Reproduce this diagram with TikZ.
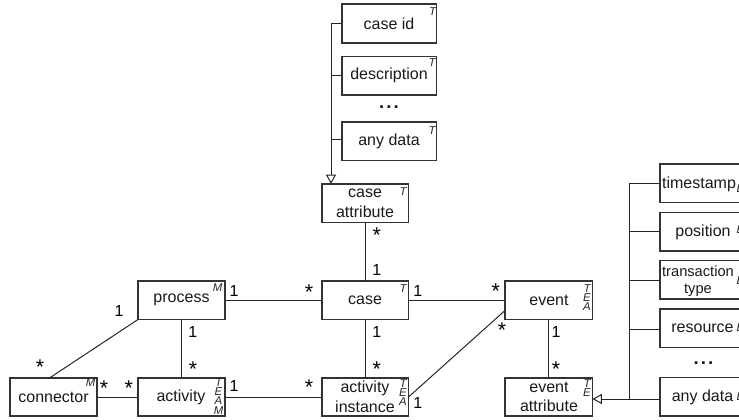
\documentclass[tikz,border=0pt]{standalone}
\usepackage{fontspec}
\setmainfont{Liberation Sans}
\usetikzlibrary{arrows.meta}
\tikzset{
  x=0.75pt,y=-0.75pt,
  box/.style={draw=black!80,line width=0.8pt,rectangle},
  lbl/.style={font=\fontsize{12}{14.8}\selectfont,align=center,inner sep=0pt,text=black!90},
  tight/.style={font=\fontsize{11}{12.6}\selectfont},
  dotsrow/.style={font=\fontsize{14}{14}\bfseries\selectfont,inner sep=0pt,text=black!90},
  tag/.style={font=\fontsize{8.5}{7.1}\selectfont\itshape,align=center,inner sep=0pt,anchor=north,text=black!85},
  mult/.style={font=\fontsize{12}{12}\selectfont,inner sep=0pt,text=black},
  star/.style={font=\fontsize{16}{16}\selectfont,inner sep=0pt,text=black},
  conn/.style={draw=black!85,line width=0.75pt},
  gen/.style={conn,-{Triangle[open,length=7pt,width=7.5pt,fill=white]}},
}
\newcommand{\bx}[5]{% name x1 y1 x2 y2
  \path[box] (#2,#3) rectangle (#4,#5);
  \coordinate (#1-w) at (#2,{(#3+#5)/2});
  \coordinate (#1-e) at (#4,{(#3+#5)/2});
  \coordinate (#1-n) at ({(#2+#4)/2},#3);
  \coordinate (#1-s) at ({(#2+#4)/2},#5);
}
\newcommand{\spdots}{.\kern1.6pt.\kern1.6pt.}
\begin{document}
\begin{tikzpicture}
\useasboundingbox (0,0) rectangle (739,420);
\clip (0,0) rectangle (739,420);
% boxes
\bx{cid}{342}{4}{436.5}{43}
\bx{desc}{342}{56.5}{436.5}{95}
\bx{anyT}{342}{122}{436.5}{160.5}
\bx{catt}{322}{184}{408.5}{222.5}
\bx{case}{322}{281}{408.5}{319.5}
\bx{ainst}{322}{378}{408.5}{416}
\bx{event}{505}{281}{592.5}{319.5}
\bx{eatt}{505}{378}{592.5}{416}
\bx{proc}{138}{281}{225}{319.5}
\bx{act}{138}{378}{225}{416}
\bx{conn}{10}{378}{97}{416}
\bx{ts}{660}{164}{760}{202.5}
\bx{pos}{660}{212.5}{760}{251}
\bx{trans}{660}{260.5}{760}{299}
\bx{res}{660}{309}{760}{347.5}
\bx{anyE}{660}{377.5}{760}{416}
% labels
\node[lbl] (tcid) at (389,23.5) {case id};
\node[lbl] (tdesc) at (389,75.5) {description};
\node[lbl] (tanyT) at (389,141) {any data};
\node[dotsrow] (tdots1) at (389,107.5) {\spdots};
\node[lbl] (tcatt) at (365,203) {case\\attribute};
\node[lbl] (tcase) at (365,300) {case};
\node[lbl] (tainst) at (365,397) {activity\\instance};
\node[lbl] (tevent) at (549,300) {event};
\node[lbl] (teatt) at (549,397) {event\\attribute};
\node[lbl] (tproc) at (181.5,300) {process};
\node[lbl] (tact) at (181,397) {activity};
\node[lbl] (tconn) at (53.5,397) {connector};
\node[lbl] (tts) at (699,184) {timestamp};
\node[lbl] (tpos) at (703,232) {position};
\node[lbl,tight] (ttr) at (698,281) {transaction\\type};
\node[lbl] (tres) at (702.5,328.5) {resource};
\node[dotsrow] (tdots2) at (703.5,363) {\spdots};
\node[lbl] (tanyE) at (702.5,397) {any data};
% tags
\node[tag] (g1) at (432.5,7) {T};
\node[tag] (g2) at (432,58) {T};
\node[tag] (g3) at (432,126) {T};
\node[tag] (g4) at (403,187) {T};
\node[tag] (g5) at (403,284) {T};
\node[tag] (g6) at (403,379) {T\\E\\A};
\node[tag] (g7) at (587,284) {T\\E\\A};
\node[tag] (g8) at (587,379) {T\\E};
\node[tag] (g9) at (217.5,283) {M};
\node[tag] (g10) at (90.7,378) {M};
\node[tag] (g11) at (218.5,378) {T\\E\\A\\M};
\node[tag] (g12) at (740.5,184) {E};
\node[tag] (g13) at (740.5,225) {E};
\node[tag] (g14) at (740.5,276) {E};
\node[tag] (g15) at (740.5,323) {E};
\node[tag] (g16) at (740.5,392) {E};
% connectors
\coordinate (t1) at (331,23.5);
\coordinate (t2) at (331,75.5);
\coordinate (t3) at (331,139.5);
\coordinate (t4) at (331,184);
\draw[gen] (cid-w) -- (t1) -- (t4);
\draw[conn] (t2) -- (t2 -| desc-w);
\draw[conn] (t3) -- (t3 -| anyT-w);
\draw[conn] (catt-s) -- (case-n);
\draw[conn] (proc-e) -- (case-w);
\draw[conn] (case-e) -- (event-w);
\draw[conn] (proc-s) -- (act-n);
\draw[conn] (case-s) -- (ainst-n);
\draw[conn] (event-s) -- (eatt-n);
\draw[conn] (conn-e) -- (act-w);
\draw[conn] (act-e) -- (ainst-w);
\coordinate (p1) at (138,319.5);
\coordinate (c1) at (49.5,378);
\draw[conn] (p1) -- (c1);
\coordinate (e1) at (505,310.5);
\coordinate (i1) at (408.5,397);
\draw[conn] (e1) -- (i1);
\coordinate (r0) at (629,183.25);
\coordinate (r1) at (629,231.75);
\coordinate (r2) at (629,281);
\coordinate (r3) at (629,329.5);
\coordinate (r4) at (629,399);
\draw[gen] (anyE-w |- r4) -- (eatt-e |- r4);
\draw[conn] (ts-w) -- (r0) -- (r4);
\draw[conn] (r1) -- (r1 -| pos-w);
\draw[conn] (r2) -- (r2 -| trans-w);
\draw[conn] (r3) -- (r3 -| res-w);
% multiplicities
\node[star] (m1) at (376.7,235) {*};
\node[mult] (m2) at (376.7,270) {1};
\node[star] (m3) at (309,291.7) {*};
\node[mult] (m4) at (234,290.7) {1};
\node[mult] (m5) at (417.7,290.7) {1};
\node[star] (m6) at (495.7,291) {*};
\node[mult] (m7) at (192.7,331.7) {1};
\node[star] (m8) at (193,369) {*};
\node[mult] (m9) at (376.7,331.7) {1};
\node[star] (m10) at (376.7,369) {*};
\node[mult] (m11) at (556,331.7) {1};
\node[star] (m12) at (556,369) {*};
\node[star] (m13) at (502,330) {*};
\node[mult] (m14) at (417.7,403.3) {1};
\node[mult] (m15) at (119,311) {1};
\node[star] (m16) at (40,366.7) {*};
\node[star] (m17) at (104,387.7) {*};
\node[star] (m18) at (128.7,387.7) {*};
\node[mult] (m19) at (234,386) {1};
\node[star] (m20) at (309,387.3) {*};
\end{tikzpicture}
\end{document}
